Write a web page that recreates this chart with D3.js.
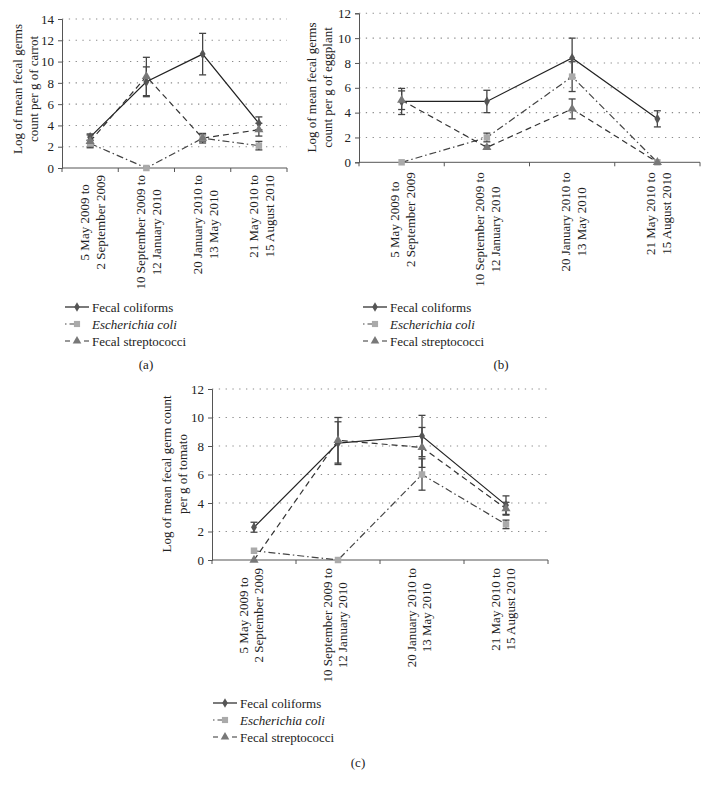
<!DOCTYPE html>
<html><head><meta charset="utf-8">
<script src="https://cdn.jsdelivr.net/npm/d3@7"></script>
<style>
html,body{margin:0;padding:0;background:#fff;}
svg{display:block;font-family:"Liberation Serif","DejaVu Serif",serif;}
</style></head>
<body><svg id="chart" width="708" height="788"></svg>
<script>
// ---------- DATA ----------
const categories = [
  ["5 May 2009 to", "2 September 2009"],
  ["10 September 2009 to", "12 January 2010"],
  ["20 January 2010 to", "13 May 2010"],
  ["21 May 2010 to", "15 August 2010"]
];
const seriesNames = ["Fecal coliforms", "Escherichia coli", "Fecal streptococci"];

// (a) carrot
const carrotColiforms = [2.9, 8.1, 10.7, 4.2];
const carrotColiformsErr = [0.3, 1.4, 1.95, 0.6];
const carrotEcoli = [2.3, 0, 2.8, 2.1];
const carrotEcoliErr = [0.3, 0, 0.3, 0.4];
const carrotStrep = [2.5, 8.6, 2.8, 3.6];
const carrotStrepErr = [0.6, 1.8, 0.45, 0.6];

// (b) eggplant
const eggplantColiforms = [4.9, 4.9, 8.4, 3.5];
const eggplantColiformsErr = [1.05, 0.9, 1.6, 0.65];
const eggplantEcoli = [0, 2.0, 6.9, 0];
const eggplantEcoliErr = [0, 0.35, 1.2, 0];
const eggplantStrep = [5.0, 1.2, 4.3, 0];
const eggplantStrepErr = [0.75, 0.15, 0.8, 0];

// (c) tomato
const tomatoColiforms = [2.3, 8.2, 8.7, 3.85];
const tomatoColiformsErr = [0.35, 1.5, 1.45, 0.65];
const tomatoEcoli = [0.65, 0, 6.0, 2.5];
const tomatoEcoliErr = [0, 0, 1.1, 0.3];
const tomatoStrep = [0, 8.4, 7.9, 3.6];
const tomatoStrepErr = [0, 1.6, 1.4, 0.45];

const yTicksA = [0, 2, 4, 6, 8, 10, 12, 14];
const yTicksB = [0, 2, 4, 6, 8, 10, 12];
const yTicksC = [0, 2, 4, 6, 8, 10, 12];

// ---------- STYLES ----------
const styles = [
  {line: "#222222", dash: null, marker: "diamond", fill: "#555555", msize: 30},
  {line: "#444444", dash: "7,3,1.5,3", marker: "square", fill: "#aaaaaa", msize: 42},
  {line: "#333333", dash: "6,4", marker: "triangle", fill: "#787878", msize: 36}
];
const symType = {diamond: d3.symbolDiamond, square: d3.symbolSquare, triangle: d3.symbolTriangle};

const panels = [
  {
    left: 62, right: 287, top: 19, bottom: 168, yTicks: yTicksA,
    title: ["Log of mean fecal germs", "count per g of carrot"], titleX: [22, 38], titleY: 89,
    labelGap: 7, labelDx: [-1, 15],
    legendX: 65, legendY: 307, caption: "(a)", capX: 146, capY: 369,
    series: [[carrotColiforms, carrotColiformsErr], [carrotEcoli, carrotEcoliErr], [carrotStrep, carrotStrepErr]]
  },
  {
    left: 359, right: 700, top: 13.3, bottom: 162.3, yTicks: yTicksB,
    title: ["Log of mean fecal germs", "count per g of eggplant"], titleX: [316, 332], titleY: 87.5,
    labelGap: 10, labelDx: [-2.5, 13.5],
    legendX: 363, legendY: 307, caption: "(b)", capX: 501, capY: 369,
    series: [[eggplantColiforms, eggplantColiformsErr], [eggplantEcoli, eggplantEcoliErr], [eggplantStrep, eggplantStrepErr]]
  },
  {
    left: 212, right: 548, top: 389, bottom: 560, yTicks: yTicksC,
    title: ["Log of mean fecal germ count", "per g of tomato"], titleX: [171, 187], titleY: 474,
    labelGap: 8, labelDx: [-6.5, 8.5],
    legendX: 213, legendY: 703, caption: "(c)", capX: 358, capY: 767,
    series: [[tomatoColiforms, tomatoColiformsErr], [tomatoEcoli, tomatoEcoliErr], [tomatoStrep, tomatoStrepErr]]
  }
];

const svg = d3.select("#chart");
const FS = 13;

panels.forEach(p => {
  const g = svg.append("g");
  const ymax = d3.max(p.yTicks);
  const x = d3.scaleBand().domain(d3.range(categories.length)).range([p.left, p.right]).padding(0);
  const y = d3.scaleLinear().domain([0, ymax]).range([p.bottom, p.top]);

  // gridlines
  g.append("g").selectAll("line").data(p.yTicks.filter(t => t > 0)).join("line")
    .attr("x1", p.left).attr("x2", p.right)
    .attr("y1", d => y(d)).attr("y2", d => y(d))
    .attr("stroke", "#8a8a8a").attr("stroke-width", 1.1).attr("stroke-dasharray", "1.3,5.5");

  // y axis
  const yAxis = d3.axisLeft(y).tickValues(p.yTicks).tickSize(4).tickPadding(4).tickFormat(d3.format("d"));
  const ya = g.append("g").attr("transform", `translate(${p.left},0)`).call(yAxis);
  ya.select(".domain").attr("stroke", "#555");
  ya.selectAll(".tick line").attr("stroke", "#555");
  ya.selectAll("text").attr("font-size", FS).attr("fill", "#222").attr("font-family", "Liberation Serif");

  // x axis
  const xEdges = d3.range(categories.length + 1).map(i => i < categories.length ? x(i) : p.right);
  g.append("line").attr("x1", p.left).attr("x2", p.right).attr("y1", p.bottom).attr("y2", p.bottom)
    .attr("stroke", "#555").attr("stroke-width", 1);
  g.append("g").selectAll("line").data(xEdges).join("line")
    .attr("x1", d => d).attr("x2", d => d).attr("y1", p.bottom).attr("y2", p.bottom + 4)
    .attr("stroke", "#555");

  // x labels (rotated, two lines)
  categories.forEach((lines, i) => {
    const cx = x(i) + x.bandwidth() / 2;
    const tmp = g.append("g");
    const texts = lines.map((ln, j) => tmp.append("text").attr("font-size", FS).attr("fill", "#222")
      .attr("text-anchor", "middle").text(ln));
    const maxLen = d3.max(texts, t => t.node().getComputedTextLength());
    const cy = p.bottom + p.labelGap + maxLen / 2;
    texts.forEach((t, j) => {
      t.attr("transform", `translate(${cx + p.labelDx[j]},${cy}) rotate(-90)`);
    });
  });

  // y title
  p.title.forEach((t, j) => {
    g.append("text").attr("font-size", FS).attr("fill", "#222").attr("text-anchor", "middle")
      .attr("transform", `translate(${p.titleX[j]},${p.titleY}) rotate(-90)`).text(t);
  });

  const cxOf = i => x(i) + x.bandwidth() / 2;

  // lines
  p.series.forEach(([vals, errs], s) => {
    const st = styles[s];
    const line = d3.line().x((d, i) => cxOf(i)).y(d => y(d));
    g.append("path").datum(vals).attr("d", line).attr("fill", "none")
      .attr("stroke", st.line).attr("stroke-width", 1.2)
      .attr("stroke-dasharray", st.dash);
  });
  // error bars
  p.series.forEach(([vals, errs], s) => {
    const eg = g.append("g").attr("stroke", "#444").attr("stroke-width", 1.3);
    vals.forEach((v, i) => {
      const e = errs[i];
      if (!e) return;
      const cx = cxOf(i);
      eg.append("line").attr("x1", cx).attr("x2", cx).attr("y1", y(v - e)).attr("y2", y(v + e));
      [v - e, v + e].forEach(b => eg.append("line").attr("x1", cx - 3.5).attr("x2", cx + 3.5).attr("y1", y(b)).attr("y2", y(b)));
    });
  });
  // markers
  p.series.forEach(([vals, errs], s) => {
    const st = styles[s];
    g.append("g").selectAll("path").data(vals).join("path")
      .attr("d", d3.symbol().type(symType[st.marker]).size(st.msize))
      .attr("transform", (d, i) => `translate(${cxOf(i)},${y(d)})`)
      .attr("fill", st.fill);
  });

  // legend
  seriesNames.forEach((name, s) => {
    const st = styles[s];
    const ly = p.legendY + s * 17;
    const lg = g.append("g");
    lg.append("line").attr("x1", p.legendX).attr("x2", p.legendX + 24).attr("y1", ly).attr("y2", ly)
      .attr("stroke", st.line).attr("stroke-width", 1.2).attr("stroke-dasharray", st.dash ? (s === 1 ? "1.5,3,5,20,5,3" : "5,14,5") : null);
    lg.append("path").attr("d", d3.symbol().type(symType[st.marker]).size(st.msize * 0.9))
      .attr("transform", `translate(${p.legendX + 12},${ly})`).attr("fill", st.fill);
    lg.append("text").attr("x", p.legendX + 27).attr("y", ly + 4.5).attr("font-size", FS).attr("fill", "#222")
      .attr("font-style", s === 1 ? "italic" : null).text(name);
  });

  // caption
  g.append("text").attr("x", p.capX).attr("y", p.capY).attr("text-anchor", "middle")
    .attr("font-size", FS).attr("fill", "#222").text(p.caption);
});
</script></body></html>
